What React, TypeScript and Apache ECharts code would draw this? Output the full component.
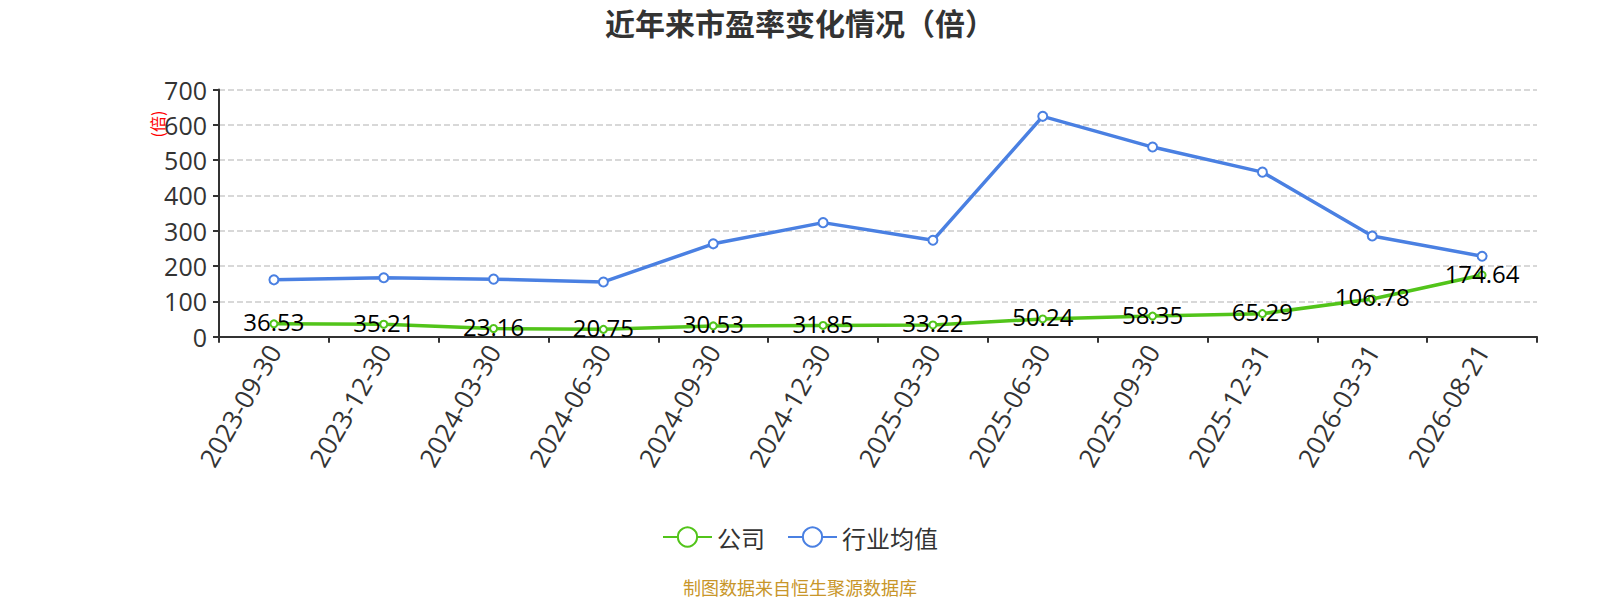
import React, { useEffect, useRef } from "react";
import * as echarts from "echarts";

const categories = [
  "2023-09-30", "2023-12-30", "2024-03-30", "2024-06-30", "2024-09-30", "2024-12-30",
  "2025-03-30", "2025-06-30", "2025-09-30", "2025-12-31", "2026-03-31", "2026-08-21",
];
const companyPE = [36.53, 35.21, 23.16, 20.75, 30.53, 31.85, 33.22, 50.24, 58.35, 65.29, 106.78, 174.64];
const industryPE = [161, 167, 163, 155, 263, 323, 273, 624, 537, 466, 285, 228];
const yTicks = { min: 0, max: 700, interval: 100 };

const titleText = "近年来市盈率变化情况（倍）";
const seriesNames = ["公司", "行业均值"];
const footerText = "制图数据来自恒生聚源数据库";
const unitText = "(倍)";

const CJK = "'Noto Sans CJK SC', 'Noto Sans', sans-serif";
const NUM = "'Open Sans', 'Noto Sans CJK SC', sans-serif";

export default function App() {
  const ref = useRef<HTMLDivElement>(null);
  useEffect(() => {
    document.body.style.margin = "0";
    if (!ref.current) return;
    const chart = echarts.init(ref.current, undefined, { renderer: "svg" });
    chart.setOption({
      animation: false,
      textStyle: { fontFamily: CJK },
      title: {
        text: titleText,
        left: "center",
        top: 2,
        textStyle: { fontSize: 30, fontWeight: "bold", color: "#333", fontFamily: CJK },
      },
      legend: {
        data: seriesNames,
        top: 520,
        left: "center",
        itemWidth: 49,
        itemHeight: 24,
        itemGap: 22,
        textStyle: { fontSize: 24, color: "#333", fontFamily: CJK },
      },
      grid: { left: 219, right: 63, top: 89.5, bottom: 263.3, containLabel: false },
      xAxis: {
        type: "category",
        data: categories,
        boundaryGap: true,
        axisLine: { show: true, lineStyle: { color: "#333", width: 2 } },
        axisTick: { show: true, alignWithLabel: false, length: 6, lineStyle: { color: "#333", width: 2 } },
        axisLabel: { rotate: 60, fontSize: 26, color: "#333", margin: 10, fontFamily: NUM },
        splitLine: { show: false },
      },
      yAxis: {
        type: "value",
        min: yTicks.min,
        max: yTicks.max,
        interval: yTicks.interval,
        axisLine: { show: true, lineStyle: { color: "#333", width: 2 } },
        axisTick: { show: true, length: 6, lineStyle: { color: "#333", width: 2 } },
        axisLabel: { fontSize: 25, color: "#333", margin: 12, fontFamily: NUM },
        splitLine: { show: true, lineStyle: { type: "dashed", color: "#ccc", width: 1.5 } },
      },
      graphic: [
        {
          type: "text",
          x: 157,
          y: 124,
          rotation: Math.PI / 2,
          style: {
            text: unitText,
            fill: "#ff0000",
            fontSize: 16,
            fontFamily: CJK,
            textAlign: "center",
            textVerticalAlign: "middle",
          },
        },
        {
          type: "text",
          left: "center",
          top: 578,
          style: {
            text: footerText,
            fill: "#C8962A",
            fontSize: 18,
            fontFamily: CJK,
          },
        },
      ],
      series: [
        {
          name: seriesNames[0],
          type: "line",
          data: companyPE,
          symbol: "emptyCircle",
          symbolSize: 7,
          itemStyle: { color: "#52C41A" },
          lineStyle: { color: "#52C41A", width: 3.5 },
          label: {
            show: true,
            position: "inside",
            offset: [0, -2],
            fontSize: 24,
            color: "#000",
            fontFamily: NUM,
          },
          z: 3,
        },
        {
          name: seriesNames[1],
          type: "line",
          data: industryPE,
          symbol: "emptyCircle",
          symbolSize: 9,
          itemStyle: { color: "#4A80E2" },
          lineStyle: { color: "#4A80E2", width: 3.5 },
          label: { show: false },
          z: 2,
        },
      ],
    });
    return () => chart.dispose();
  }, []);
  return <div ref={ref} style={{ width: 1600, height: 600 }} />;
}
